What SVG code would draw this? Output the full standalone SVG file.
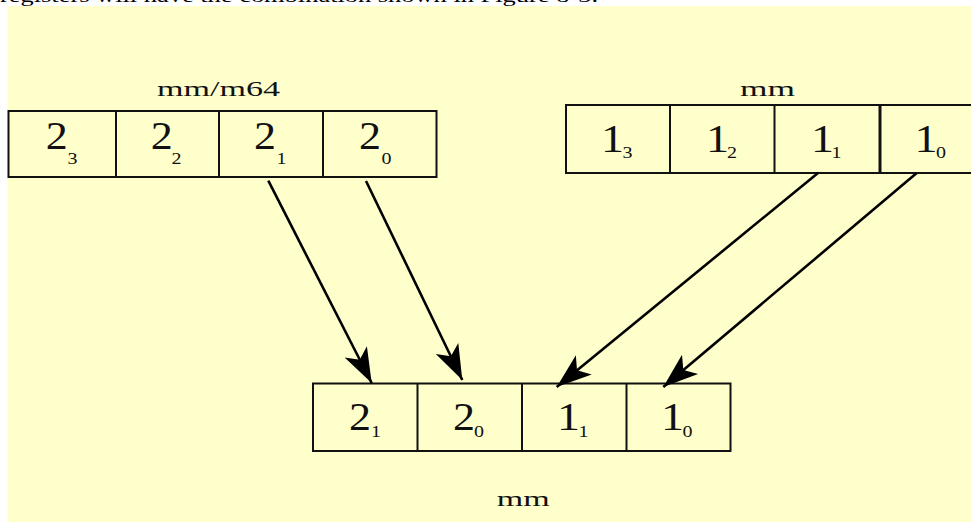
<svg xmlns="http://www.w3.org/2000/svg" width="971" height="522" viewBox="0 0 971 522">
<defs>
<style>
.box{fill:none;stroke:#111;stroke-width:2}
.lbl{font-family:"Liberation Serif","Times New Roman",serif;font-size:21px;fill:#111;text-anchor:middle}
.dig{font-family:"Liberation Serif","Times New Roman",serif;font-size:39px;fill:#111;text-anchor:middle}
.sub{font-family:"Liberation Serif","Times New Roman",serif;font-size:16px;fill:#111;text-anchor:middle}
.top{font-family:"Liberation Serif","Times New Roman",serif;font-size:18px;fill:#000}
.arr{stroke:#000;stroke-width:2.6;fill:none;marker-end:url(#ah)}
</style>
<marker id="ah" markerUnits="userSpaceOnUse" markerWidth="40" markerHeight="40" viewBox="-30 -15 32 30" refX="0" refY="0" orient="auto">
<path d="M0,0 L-28,-10 L-21,0 L-28,10 Z" fill="#000"/>
</marker>
</defs>
<rect x="0" y="0" width="971" height="522" fill="#fff"/>
<rect x="8" y="6" width="963" height="516" fill="#FFFFCC"/>
<text class="top" x="0" y="2" textLength="598" lengthAdjust="spacingAndGlyphs">registers will have the combination shown in Figure 8-3.</text>

<g id="src2">
<text class="lbl" x="218.5" y="96" textLength="123" lengthAdjust="spacingAndGlyphs">mm/m64</text>
<rect class="box" x="8.5" y="111" width="428" height="66"/>
<line class="box" x1="116" y1="111" x2="116" y2="177"/>
<line class="box" x1="219" y1="111" x2="219" y2="177"/>
<line class="box" x1="323" y1="111" x2="323" y2="177"/>
<text class="dig" x="56.7" y="149" textLength="22" lengthAdjust="spacingAndGlyphs">2</text><text class="sub" x="72.5" y="164" textLength="10" lengthAdjust="spacingAndGlyphs">3</text>
<text class="dig" x="161.7" y="149" textLength="22" lengthAdjust="spacingAndGlyphs">2</text><text class="sub" x="176.5" y="164" textLength="10" lengthAdjust="spacingAndGlyphs">2</text>
<text class="dig" x="265" y="149" textLength="22" lengthAdjust="spacingAndGlyphs">2</text><text class="sub" x="281.5" y="164" textLength="10" lengthAdjust="spacingAndGlyphs">1</text>
<text class="dig" x="370" y="149" textLength="22" lengthAdjust="spacingAndGlyphs">2</text><text class="sub" x="386.5" y="164" textLength="10" lengthAdjust="spacingAndGlyphs">0</text>
</g>

<g id="src1">
<text class="lbl" x="767.5" y="96" textLength="55" lengthAdjust="spacingAndGlyphs">mm</text>
<rect class="box" x="566" y="105" width="418" height="68"/>
<line class="box" x1="670" y1="105" x2="670" y2="173"/>
<line class="box" x1="774.5" y1="105" x2="774.5" y2="173"/>
<line class="box" x1="880" y1="105" x2="880" y2="173" style="stroke-width:3"/>
<text class="dig" x="612.5" y="151.5" textLength="23" lengthAdjust="spacingAndGlyphs">1</text><text class="sub" x="627.5" y="158" textLength="10" lengthAdjust="spacingAndGlyphs">3</text>
<text class="dig" x="717.5" y="151.5" textLength="23" lengthAdjust="spacingAndGlyphs">1</text><text class="sub" x="732" y="158" textLength="10" lengthAdjust="spacingAndGlyphs">2</text>
<text class="dig" x="822.5" y="151.5" textLength="23" lengthAdjust="spacingAndGlyphs">1</text><text class="sub" x="836.5" y="158" textLength="10" lengthAdjust="spacingAndGlyphs">1</text>
<text class="dig" x="926" y="151.5" textLength="23" lengthAdjust="spacingAndGlyphs">1</text><text class="sub" x="941" y="158" textLength="10" lengthAdjust="spacingAndGlyphs">0</text>
</g>

<g id="dest">
<rect class="box" x="313" y="383.5" width="417.5" height="67.5"/>
<line class="box" x1="417.5" y1="383.5" x2="417.5" y2="451"/>
<line class="box" x1="522" y1="383.5" x2="522" y2="451"/>
<line class="box" x1="626.5" y1="383.5" x2="626.5" y2="451"/>
<text class="dig" x="360" y="430" textLength="22" lengthAdjust="spacingAndGlyphs">2</text><text class="sub" x="376" y="436.7" textLength="10" lengthAdjust="spacingAndGlyphs">1</text>
<text class="dig" x="464" y="430" textLength="22" lengthAdjust="spacingAndGlyphs">2</text><text class="sub" x="479" y="436.7" textLength="10" lengthAdjust="spacingAndGlyphs">0</text>
<text class="dig" x="568.5" y="430" textLength="23" lengthAdjust="spacingAndGlyphs">1</text><text class="sub" x="583.5" y="436.7" textLength="10" lengthAdjust="spacingAndGlyphs">1</text>
<text class="dig" x="672.5" y="430" textLength="23" lengthAdjust="spacingAndGlyphs">1</text><text class="sub" x="687.5" y="436.7" textLength="10" lengthAdjust="spacingAndGlyphs">0</text>
<text class="lbl" x="523.3" y="506" textLength="53" lengthAdjust="spacingAndGlyphs">mm</text>
</g>

<g id="connectors">
<line class="arr" x1="268.3" y1="180.7" x2="371.7" y2="383"/>
<line class="arr" x1="366" y1="181" x2="462.3" y2="380"/>
<line class="arr" x1="818.3" y1="172.7" x2="556.7" y2="387"/>
<line class="arr" x1="916.7" y1="173" x2="663.3" y2="387"/>
</g>
</svg>
